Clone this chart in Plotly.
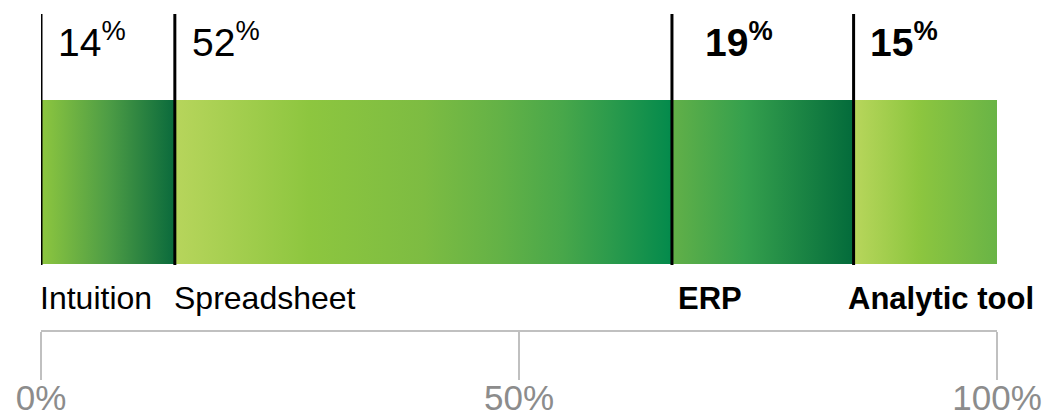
import plotly.graph_objects as go

# ---- data ----
categories = ["Intuition", "Spreadsheet", "ERP", "Analytic tool"]
shares = [14, 52, 19, 15]
bold_flags = [False, False, True, True]
tick_values = [0, 50, 100]
tick_labels = ["0%", "50%", "100%"]

# ---- style ----
gradients = [
    [[0, "#8dc63f"], [0.5, "#4e9d45"], [1, "#0a6a3c"]],
    [[0, "#b7d55c"], [0.27, "#8dc63f"], [0.5, "#7dbc42"], [0.65, "#64b246"],
     [0.78, "#48a74a"], [0.88, "#2a9a4c"], [1, "#038a4c"]],
    [[0, "#62b048"], [0.4, "#35a04d"], [1, "#036b3b"]],
    [[0, "#b8d65c"], [0.45, "#8dc63f"], [1, "#69b446"]],
]
FONT = "Arial, Liberation Sans, sans-serif"
BAR_LO, BAR_HI = 66, 230        # y-units of plot (plot area height = 330)
LINE_LO, LINE_HI = 65, 316
PCT_Y, CAT_Y = 291, 32
pct_shift = [15, 15, 31, 14]
cat_shift = [-3, -3, 4, -8]

fig = go.Figure()
starts = []
acc = 0
for v in shares:
    starts.append(acc)
    acc += v

for i, (cat, v) in enumerate(zip(categories, shares)):
    x0, x1 = starts[i], starts[i] + v
    fig.add_trace(go.Scatter(
        x=[x0, x1, x1, x0, x0],
        y=[BAR_LO, BAR_LO, BAR_HI, BAR_HI, BAR_LO],
        mode="lines", line=dict(width=0),
        fill="toself",
        fillgradient=dict(type="horizontal", colorscale=gradients[i]),
        hoverinfo="skip", showlegend=False,
    ))
    fig.add_shape(type="line", xref="x", yref="y", x0=x0, x1=x0,
                  y0=LINE_LO, y1=LINE_HI, line=dict(color="black", width=3))
    b = bold_flags[i]
    num = f"<b>{v}<sup>%</sup></b>" if b else f"{v}<sup>%</sup>"
    fig.add_annotation(x=x0, y=PCT_Y, xref="x", yref="y", text=num,
                       showarrow=False, xanchor="left", yanchor="middle",
                       xshift=pct_shift[i],
                       font=dict(family=FONT, size=39, color="black"))
    lab = f"<b>{cat}</b>" if b else cat
    fig.add_annotation(x=x0, y=CAT_Y, xref="x", yref="y", text=lab,
                       showarrow=False, xanchor="left", yanchor="middle",
                       xshift=cat_shift[i],
                       font=dict(family=FONT, size=31 if b else 32, color="black"))

fig.update_layout(
    width=1043, height=417,
    margin=dict(l=41, r=46, t=0, b=87, autoexpand=False),
    paper_bgcolor="white", plot_bgcolor="white",
    xaxis=dict(range=[0, 100], tickvals=tick_values, ticktext=tick_labels,
               ticks="outside", ticklen=48, tickwidth=2, tickcolor="#c0c0c0",
               showline=True, linecolor="#c0c0c0", linewidth=2,
               ticklabelstandoff=-12,
               showgrid=False, zeroline=False, fixedrange=True, automargin=False,
               tickfont=dict(family=FONT, size=35, color="#8c8c8c")),
    yaxis=dict(range=[0, 330], visible=False, fixedrange=True, automargin=False),
)

fig.write_html("out.html")
